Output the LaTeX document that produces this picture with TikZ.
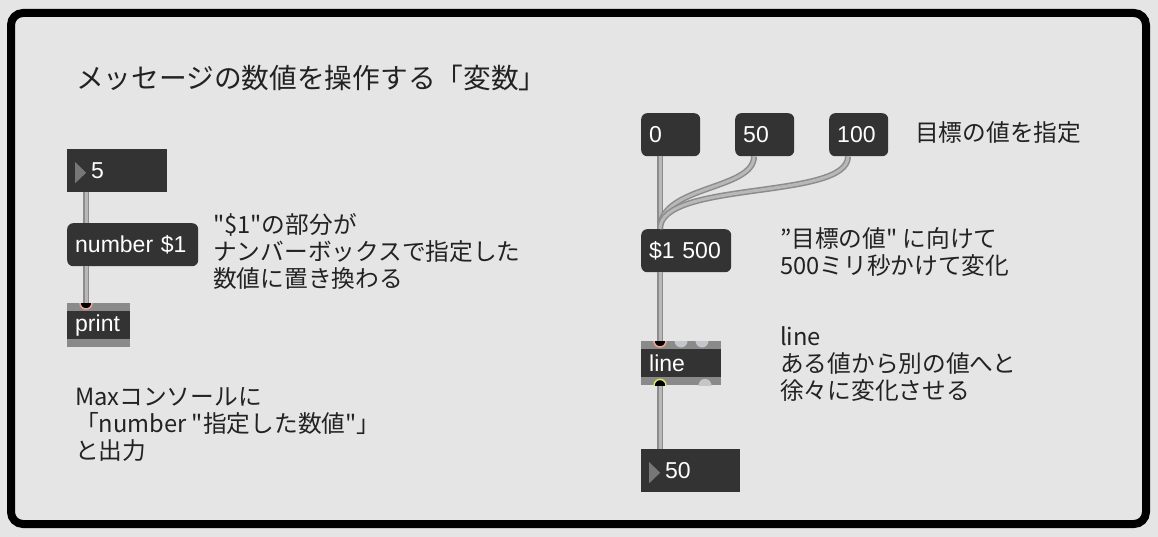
\documentclass[tikz,border=0pt]{standalone}
\usepackage{fontspec}
\newfontfamily\jpfont{Noto Sans CJK JP}
\newfontfamily\boxfont{Liberation Sans}
\definecolor{patchbg}{HTML}{E5E5E5}
\definecolor{boxdark}{HTML}{333333}
\definecolor{band}{HTML}{8A8A8A}
\definecolor{cableout}{HTML}{8C8C8C}
\definecolor{cablein}{HTML}{B8B8B8}
\definecolor{inletoff}{HTML}{C3C7CB}
\definecolor{hotin}{HTML}{F2A493}
\definecolor{hotout}{HTML}{E2E266}
\definecolor{ink}{HTML}{222222}
\definecolor{tri}{HTML}{777777}

\begin{document}
\begin{tikzpicture}[x=1pt, y=-1pt,
		boxtext/.style={text=white, font=\boxfont\fontsize{23}{27}\selectfont},
		msgbox/.style={boxtext, anchor=north west, fill=boxdark, rounded corners=6, minimum height=43, inner xsep=8, inner ysep=0, align=left, text width=#1},
		numbox/.style={boxtext, anchor=north west, fill=boxdark, minimum height=43, inner sep=0, align=left, text width=#1,
				execute at begin node={\hspace*{24pt}},
				path picture={\fill[tri] ([shift={(8,13)}]path picture bounding box.north west) -- ++(0,21) -- ++(11,-10.5) -- cycle;}},
		maxobj/.style={boxtext, anchor=north west, fill=boxdark, minimum height=44, inner xsep=8, inner ysep=0, align=left, text width=#1,
				path picture={
						\fill[band] (path picture bounding box.north west) rectangle ([yshift=-8]path picture bounding box.north east);
						\fill[band] (path picture bounding box.south west) rectangle ([yshift=8]path picture bounding box.south east);
					}},
		comment/.style={anchor=base west, inner sep=0, align=left, text=ink, font=\jpfont\fontsize{23.7}{26.8}\selectfont},
		cable/.style={draw=cableout, line width=1.5, double=cablein, double distance=3},
		hotinlet/.style={fill=black, draw=hotin, line width=1.5},
		hotoutlet/.style={fill=black, draw=hotout, line width=1.5},
	]
	\path[use as bounding box] (0,0) rectangle (1158,537);
	\fill[patchbg] (0,0) rectangle (1158,537);
	\draw[line width=8, rounded corners=12] (11,13) rectangle (1146,524);

	% left patch
	\node[comment, font=\jpfont\fontsize{27.7}{30}\selectfont] (title) at (76,89) {メッセージの数値を操作する「変数」};
	\node[numbox=100] (numFive) at (67,149) {5};
	\node[msgbox=115] (msgNumber) at (67,223) {number \$1};
	\node[maxobj=47] (objPrint) at (67,303) {print};
	% base anchor sits on the last line
	\node[comment] (noteDollar) at (213,287) {"\$1"の部分が\\ナンバーボックスで指定した\\数値に置き換わる};
	\node[comment] (noteConsole) at (75,459) {Maxコンソールに\\「number "指定した数値"」\\と出力};

	% right patch
	\node[msgbox=43] (msgZero) at (641,113) {0};
	\node[msgbox=43] (msgFifty) at (735,113) {50};
	\node[msgbox=43] (msgHundred) at (829,113) {100};
	\node[comment] (noteTarget) at (915,142) {目標の値を指定};
	\node[msgbox=74] (msgRamp) at (641,229) {\$1 500};
	\node[comment] (noteRamp) at (780,274) {”目標の値" に向けて\\500ミリ秒かけて変化};
	\node[maxobj=64] (objLine) at (641,341) {line};
	\node[comment] (noteLine) at (780,399) {line\\ある値から別の値へと\\徐々に変化させる};
	\node[numbox=99] (numFifty) at (641,449) {50};

	% patch cords
	\draw[cable] ([xshift=19]numFive.south west) -- ([xshift=19]msgNumber.north west);
	\draw[cable] ([xshift=19]msgNumber.south west) -- ([xshift=19]objPrint.north west);
	\draw[cable] ([xshift=19]msgZero.south west) -- ([xshift=19]msgRamp.north west);
	\draw[cable] ([xshift=19]msgFifty.south west) .. controls +(0,34) and +(0,-44) .. ([xshift=19]msgRamp.north west);
	\draw[cable] ([xshift=19]msgHundred.south west) .. controls +(0,44) and +(0,-49) .. ([xshift=19]msgRamp.north west);
	\draw[cable] ([xshift=19]msgRamp.south west) -- ([xshift=19]objLine.north west);
	\draw[cable] ([xshift=19]objLine.south west) -- ([xshift=19]numFifty.north west);

	% inlets and outlets
	\begin{scope}
		\clip (objPrint.north west) rectangle ([yshift=-8]objPrint.north east);
		\filldraw[hotinlet] ([xshift=19]objPrint.north west) circle[radius=6];
	\end{scope}
	\begin{scope}
		\clip (objLine.north west) rectangle ([yshift=-8]objLine.north east);
		\filldraw[hotinlet] ([xshift=19]objLine.north west) circle[radius=6];
		\foreach \dx in {40,61}
			\fill[inletoff] ([xshift=\dx]objLine.north west) circle[radius=6.5];
	\end{scope}
	\begin{scope}
		\clip (objLine.south west) rectangle ([yshift=8]objLine.south east);
		\filldraw[hotoutlet] ([xshift=19]objLine.south west) circle[radius=6];
		\fill[inletoff] ([xshift=64]objLine.south west) circle[radius=6.5];
	\end{scope}
\end{tikzpicture}
\end{document}
